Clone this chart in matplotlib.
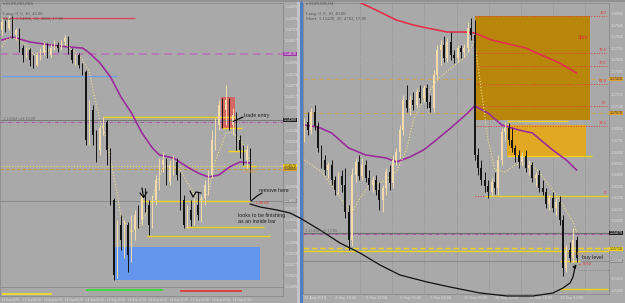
import matplotlib
matplotlib.use("Agg")
import matplotlib.pyplot as plt
import matplotlib.transforms as mtransforms
from matplotlib.patches import Rectangle
import numpy as np

W, H = 625, 303
BG = '#a9a9a9'
BULL = '#f3dcaa'
BEAR = '#141414'
LABEL = '#dcdcdc'
YEL = '#f2d21c'

plt.rcParams['font.family'] = ['Liberation Sans', 'DejaVu Sans']

# ---------------- left chart (lower timeframe) ----------------
l_open0 = 1.14750
l_close = [1.14790, 1.14760, 1.14810, 1.14725, 1.14750, 1.14660, 1.14625, 1.14650, 1.14600, 1.14575,
           1.14625, 1.14640, 1.14675, 1.14625, 1.14660, 1.14675, 1.14660, 1.14690, 1.14710, 1.14650,
           1.14600, 1.14625, 1.14575, 1.14540, 1.14200, 1.14350, 1.14225, 1.14150, 1.14260, 1.14290,
           1.14150, 1.13900, 1.13525, 1.13775, 1.13700, 1.13775, 1.13625, 1.13750, 1.13825, 1.13800,
           1.13925, 1.13875, 1.13775, 1.13900, 1.14000, 1.14075, 1.14100, 1.13990, 1.14075, 1.14090,
           1.14025, 1.13900, 1.13775, 1.13850, 1.13800, 1.13875, 1.13825, 1.13910, 1.13975, 1.14025,
           1.14200, 1.14275, 1.14375, 1.14350, 1.14400, 1.14275, 1.14325, 1.14200, 1.14150, 1.14100,
           1.14150, 1.13910]
l_high = [1.14810, 1.14800, 1.14825, 1.14820, 1.14760, 1.14760, 1.14675, 1.14665, 1.14660, 1.14625,
          1.14640, 1.14660, 1.14690, 1.14685, 1.14680, 1.14700, 1.14690, 1.14700, 1.14725, 1.14720,
          1.14660, 1.14630, 1.14635, 1.14585, 1.14550, 1.14400, 1.14375, 1.14250, 1.14275, 1.14315,
          1.14300, 1.14160, 1.13910, 1.13800, 1.13825, 1.13800, 1.13790, 1.13825, 1.13850, 1.13875,
          1.13950, 1.13960, 1.13900, 1.13925, 1.14025, 1.14110, 1.14140, 1.14110, 1.14100, 1.14125,
          1.14110, 1.14040, 1.13925, 1.13875, 1.13900, 1.13910, 1.13940, 1.13925, 1.14000, 1.14050,
          1.14250, 1.14310, 1.14400, 1.14410, 1.14475, 1.14410, 1.14360, 1.14340, 1.14225, 1.14175,
          1.14175, 1.14160]
l_low = [1.14725, 1.14740, 1.14750, 1.14710, 1.14700, 1.14640, 1.14590, 1.14610, 1.14570, 1.14560,
         1.14570, 1.14600, 1.14625, 1.14610, 1.14615, 1.14650, 1.14640, 1.14650, 1.14675, 1.14630,
         1.14585, 1.14575, 1.14560, 1.14525, 1.14175, 1.14175, 1.14175, 1.14090, 1.14125, 1.14225,
         1.14075, 1.13875, 1.13500, 1.13510, 1.13650, 1.13610, 1.13540, 1.13590, 1.13700, 1.13760,
         1.13775, 1.13840, 1.13725, 1.13760, 1.13875, 1.13950, 1.14040, 1.13975, 1.13975, 1.14025,
         1.14000, 1.13850, 1.13760, 1.13760, 1.13770, 1.13775, 1.13800, 1.13790, 1.13875, 1.13925,
         1.14010, 1.14150, 1.14250, 1.14260, 1.14275, 1.14250, 1.14225, 1.14150, 1.14110, 1.14075,
         1.14060, 1.13900]

l_ma_slow_idx = [0, 3, 8, 14, 19, 23, 25, 28, 31, 34, 37, 40, 43, 45, 49, 53, 56, 59, 62, 65, 68, 71]
l_ma_slow = [1.14700, 1.14715, 1.14690, 1.14675, 1.14665, 1.14660, 1.14635, 1.14585, 1.14515, 1.14415,
             1.14335, 1.14235, 1.14160, 1.14125, 1.14110, 1.14065, 1.14035, 1.14015, 1.14025, 1.14065,
             1.14090, 1.14085]
l_ma_fast_idx = [0, 1, 3, 7, 9, 12, 15, 18, 21, 23, 25, 26, 28, 30, 31, 33, 34, 36, 37, 39,
                 41, 43, 44, 46, 48, 51, 53, 55, 57, 59, 60, 61, 63, 64, 66, 67, 69, 71]
l_ma_fast = [1.14665, 1.14700, 1.14715, 1.14675, 1.14625, 1.14640, 1.14660, 1.14680, 1.14640, 1.14600,
             1.14540, 1.14450, 1.14300, 1.14200, 1.14100, 1.13925, 1.13815, 1.13765, 1.13740, 1.13765,
             1.13825, 1.13900, 1.13975, 1.14060, 1.14075, 1.14050, 1.13985, 1.13925, 1.13900, 1.13935,
             1.14015, 1.14100, 1.14185, 1.14235, 1.14240, 1.14215, 1.14175, 1.14090]

l_tags = [1.14630, 1.14300, 1.14070, 1.14055, 1.13895]
l_tag_bg = ['#9a34a6', '#1e1e1e', '#f2d21c', '#d4a02a', '#8c8c8c']
l_tag_fg = ['white', 'white', '#333333', '#333333', 'white']
l_ticks = [1.14865 - 0.00056 * k for k in range(26)]
l_time_idx = [0, 6, 12, 18, 24, 30, 36, 42, 48, 54, 60, 66]
l_time_lbl = ['14 Sep 2018', '14 Sep 02:00', '14 Sep 04:00', '14 Sep 06:00', '14 Sep 08:00',
              '14 Sep 10:00', '14 Sep 12:00', '14 Sep 14:00', '14 Sep 16:00', '14 Sep 18:00',
              '14 Sep 20:00', '14 Sep 22:00']

# ---------------- right chart (higher timeframe) ----------------
r_open0 = 1.1685
r_close = [1.1698, 1.1690, 1.1708, 1.1694, 1.1672, 1.1660, 1.1650, 1.1655, 1.1640, 1.1630,
           1.1644, 1.1635, 1.1608, 1.1580, 1.1645, 1.1658, 1.1644, 1.1655, 1.1642, 1.1635,
           1.1640, 1.1630, 1.1620, 1.1632, 1.1648, 1.1637, 1.1660, 1.1668, 1.1690, 1.1720,
           1.1712, 1.1720, 1.1715, 1.1728, 1.1722, 1.1732, 1.1718, 1.1712, 1.1745, 1.1770,
           1.1775, 1.1762, 1.1778, 1.1765, 1.1762, 1.1772, 1.1768, 1.1772, 1.1792, 1.1785,
           1.1665, 1.1652, 1.1640, 1.1634, 1.1628, 1.1638, 1.1632, 1.1660, 1.1688, 1.1692,
           1.1680, 1.1672, 1.1665, 1.1658, 1.1664, 1.1652, 1.1655, 1.1642, 1.1645, 1.1632,
           1.1628, 1.1616, 1.1622, 1.1612, 1.1618, 1.1600, 1.1552, 1.1570, 1.1562, 1.1580,
           1.1562]
r_high = [1.1702, 1.1708, 1.1712, 1.1715, 1.1698, 1.1675, 1.1665, 1.1658, 1.1660, 1.1644,
          1.1648, 1.1650, 1.1652, 1.1615, 1.1652, 1.1662, 1.1665, 1.1662, 1.1660, 1.1650,
          1.1644, 1.1645, 1.1638, 1.1635, 1.1652, 1.1655, 1.1665, 1.1672, 1.1695, 1.1725,
          1.1735, 1.1725, 1.1728, 1.1732, 1.1735, 1.1735, 1.1736, 1.1725, 1.1750, 1.1775,
          1.1780, 1.1784, 1.1782, 1.1788, 1.1770, 1.1775, 1.1775, 1.1776, 1.1798, 1.1802,
          1.1800, 1.1672, 1.1660, 1.1648, 1.1640, 1.1642, 1.1648, 1.1665, 1.1692, 1.1698,
          1.1697, 1.1692, 1.1675, 1.1670, 1.1668, 1.1670, 1.1660, 1.1658, 1.1648, 1.1650,
          1.1640, 1.1632, 1.1625, 1.1628, 1.1622, 1.1624, 1.1605, 1.1575, 1.1578, 1.1592,
          1.1584]
r_low = [1.1678, 1.1685, 1.1686, 1.1690, 1.1668, 1.1652, 1.1645, 1.1642, 1.1635, 1.1625,
         1.1626, 1.1628, 1.1602, 1.1570, 1.1574, 1.1638, 1.1640, 1.1640, 1.1638, 1.1630,
         1.1628, 1.1625, 1.1610, 1.1608, 1.1625, 1.1630, 1.1632, 1.1655, 1.1662, 1.1685,
         1.1708, 1.1705, 1.1710, 1.1712, 1.1717, 1.1718, 1.1712, 1.1708, 1.1708, 1.1740,
         1.1755, 1.1758, 1.1758, 1.1760, 1.1757, 1.1758, 1.1762, 1.1763, 1.1768, 1.1780,
         1.1660, 1.1645, 1.1635, 1.1628, 1.1622, 1.1624, 1.1626, 1.1625, 1.1655, 1.1680,
         1.1675, 1.1668, 1.1658, 1.1652, 1.1654, 1.1648, 1.1645, 1.1638, 1.1634, 1.1628,
         1.1625, 1.1612, 1.1610, 1.1608, 1.1605, 1.1595, 1.1544, 1.1548, 1.1558, 1.1558,
         1.1558]

r_ma_slow_idx = [0, 4, 8, 13, 18, 24, 27, 31, 35, 38, 43, 48, 50, 54, 58, 63, 67, 73, 77, 80]
r_ma_slow = [1.1695, 1.1693, 1.1687, 1.1672, 1.1665, 1.1662, 1.1658, 1.1663, 1.1670, 1.1678,
             1.1692, 1.1707, 1.1714, 1.1707, 1.1695, 1.1690, 1.1687, 1.1670, 1.1660, 1.1650]
r_ma_long_idx = [13, 16, 21, 27, 32, 36, 42, 47, 50, 55, 65, 75, 80]
r_ma_long = [1.1822, 1.1818, 1.1810, 1.1800, 1.1795, 1.1792, 1.1788, 1.1788, 1.1787, 1.1780,
             1.1772, 1.1757, 1.1747]
r_ma_fast_idx = [0, 5, 9, 12, 14, 16, 19, 23, 27, 30, 32, 35, 39, 43, 47, 49, 50, 52, 54, 56,
                 59, 62, 66, 69, 73, 76, 79, 80]
r_ma_fast = [1.1660, 1.1648, 1.1630, 1.1615, 1.1608, 1.1620, 1.1635, 1.1638, 1.1648, 1.1670,
             1.1700, 1.1720, 1.1740, 1.1752, 1.1762, 1.1772, 1.1780, 1.1730, 1.1680, 1.1650,
             1.1648, 1.1655, 1.1658, 1.1648, 1.1630, 1.1615, 1.1598, 1.1588]

fib_levels = [1.1804, 1.1767, 1.1754, 1.1736, 1.1714, 1.1694, 1.1624]
fib_labels = ['100', '78.6', '70.5', '61.8', '50', '38.2', '0']
r_tags = [1.1741, 1.1707, 1.1587, 1.1571, 1.1559]
r_tag_bg = ['#dca030', '#dca030', '#1e1e1e', '#f2d21c', '#8c8c8c']
r_tag_fg = ['#333333', '#333333', 'white', '#333333', 'white']
r_grid_idx = [16.3, 25.7, 35.1, 44.9, 54.3, 63.7, 73.1, 82.5]
r_ticks = [1.1806 - 0.00115 * k for k in range(25)]
r_time_idx = [0, 9, 18, 28, 37, 47, 56, 66, 75]
r_time_lbl = ['31 Aug 2018', '4 Sep 16:00', '5 Sep 12:00', '6 Sep 08:00', '7 Sep 04:00',
              '10 Sep 00:00', '10 Sep 20:00', '11 Sep 16:00', '12 Sep 12:00']


def px_rect(x0, y0, x1, y1):
    return [x0 / W, 1 - y1 / H, (x1 - x0) / W, (y1 - y0) / H]


def draw_candles(ax, first_open, highs, lows, closes, width=0.5):
    c = np.array(closes)
    o = np.r_[first_open, c[:-1]]
    x = np.arange(len(c))
    cols = np.where(c >= o, BULL, BEAR)
    ax.vlines(x, lows, highs, colors=cols, lw=0.7, zorder=4)
    body = np.maximum(np.abs(c - o), 0.00002)
    ax.bar(x, body, bottom=np.minimum(o, c), width=width, color=cols, lw=0, zorder=5)


def style(ax, xlim, ylim, ticks, tags):
    ax.set_facecolor(BG)
    ax.set_xlim(*xlim)
    ax.set_ylim(*ylim)
    for s in ax.spines.values():
        s.set_color('#8a8a8a')
        s.set_linewidth(0.6)
    ax.yaxis.tick_right()
    # the scale hides its own labels where a price tag sits
    step = abs(ticks[1] - ticks[0])
    shown = [t for t in ticks if min(abs(t - p) for p in tags) > 0.6 * step]
    ax.set_yticks(shown)
    ax.set_yticklabels([f'{t:.5f}' for t in shown])
    ax.tick_params(axis='y', labelsize=2.6, labelcolor=LABEL, color='#8a8a8a',
                   length=1, width=0.4, pad=0.5)


def price_tags(ax, prices, bgs, fgs):
    tr = mtransforms.blended_transform_factory(ax.transAxes, ax.transData)
    for p, bg, fg in zip(prices, bgs, fgs):
        ax.text(1.003, p, f'{p:.5f}', transform=tr, fontsize=2.6, color=fg,
                va='center', ha='left', clip_on=False, zorder=20,
                bbox=dict(boxstyle='square,pad=0.12', fc=bg, ec='none'))


fig = plt.figure(figsize=(W / 100, H / 100), dpi=100, facecolor=BG)

# ---- left panel ----
axl = fig.add_axes(px_rect(0, 3, 283, 287))
style(axl, (-0.57, 80.3), (1.13465, 1.14885), l_ticks, l_tags)
axl.tick_params(axis='x', bottom=False, labelbottom=False)

axl.add_patch(Rectangle((32, 1.13500), 41.7, 0.00165, color='#6495ed', lw=0, zorder=1))
axl.add_patch(Rectangle((62.6, 1.14260), 4.0, 0.00155, color='#d95f5c', alpha=0.9, lw=0, zorder=1))

axl.hlines(1.14810, 0, 38, color='#e0405a', lw=0.9, zorder=2)
axl.hlines(1.14520, 0, 33, color='#6f9ee6', lw=0.9, zorder=2)
axl.axhline(1.14630, color='#b47cb4', lw=1.4, dashes=(4, 2.5), zorder=2)
axl.axhline(1.14300, color='#777777', lw=0.7, zorder=2)
axl.axhline(1.14290, color='#a35aa3', lw=0.7, dashes=(4, 1.5, 1, 1.5), zorder=2)
axl.axhline(1.14070, color='#e8d36a', lw=0.8, ls=':', zorder=2)
axl.axhline(1.14055, color='#c49a45', lw=0.8, dashes=(3, 2), zorder=2)
axl.axhline(1.13895, color='#858585', lw=0.6, zorder=2)

l_seg_price = [1.14315, 1.14260, 1.14145, 1.14070, 1.13895, 1.13765, 1.13720]
l_seg_start = [29, 63, 64.5, 69, 39.5, 52.5, 41.5]
l_seg_end = [66.5, 68.5, 69.5, 72.5, 71, 75, 76.5]
axl.hlines(l_seg_price, l_seg_start, l_seg_end, color=YEL, lw=1.0, zorder=3)

axl.plot(l_ma_slow_idx, l_ma_slow, color='#9b2d9b', lw=1.2, zorder=3)
axl.plot(l_ma_fast_idx, l_ma_fast, color='#eee08a', lw=0.8, ls=':', zorder=3)
draw_candles(axl, l_open0, l_high, l_low, l_close)
price_tags(axl, l_tags, l_tag_bg, l_tag_fg)

# indicator strip under the left chart
axi = fig.add_axes(px_rect(0, 287, 283, 296))
axi.set_facecolor(BG)
axi.set_xlim(-0.57, 80.3)
axi.set_ylim(0, 1)
for s in axi.spines.values():
    s.set_color('#8a8a8a')
    s.set_linewidth(0.6)
axi.set_yticks([])
ind_start = [0, 24, 51]
ind_end = [14.3, 46, 68.6]
ind_level = [0.22, 0.67, 0.56]
ind_color = ['#f5e31a', '#2fe02f', '#e03030']
axi.hlines(ind_level, ind_start, ind_end, colors=ind_color, lw=1.2)
axi.set_xticks(l_time_idx)
axi.set_xticklabels(l_time_lbl, ha='left')
axi.tick_params(axis='x', labelsize=2.2, labelcolor=LABEL, length=0, pad=1.4)

# ---- right panel ----
axr = fig.add_axes(px_rect(303, 3, 609, 294))
style(axr, (-0.44, 89.55), (1.1526, 1.1817), r_ticks, r_tags)
for gx in r_grid_idx:
    axr.axvline(gx, color='#8c8c8c', lw=0.6, ls=':', zorder=0.5)
axr.set_xticks(r_time_idx)
axr.set_xticklabels(r_time_lbl, ha='left')
axr.tick_params(axis='x', labelsize=2.8, labelcolor=LABEL, length=0, pad=1.8)

axr.axhline(1.1741, color='#caa457', lw=0.8, dashes=(4, 3), zorder=1)
axr.axhline(1.1707, color='#caa457', lw=0.8, dashes=(4, 3), zorder=1)
axr.add_patch(Rectangle((50.1, 1.1700), 33.9, 0.0104, color='#b8860b', lw=0, zorder=1.5))
axr.add_patch(Rectangle((59.6, 1.1664), 23.2, 0.0031, color='#e0a823', lw=0, zorder=1.5))
axr.hlines(fib_levels, 50.1, 89, colors='#e23b3b', lw=0.7, linestyles=':', zorder=2)
for lv, lb in zip(fib_levels, fib_labels):
    axr.text(88.8, lv + 0.00005, lb, fontsize=3.0, color='#e23b3b', ha='right', va='bottom', zorder=6)

axr.axhline(1.1587, color='#6f6f6f', lw=0.8, zorder=2)
axr.axhline(1.1586, color='#a35aa3', lw=0.7, dashes=(4, 1.5, 1, 1.5), zorder=2)
axr.axhline(1.1572, color=YEL, lw=1.0, dashes=(4, 2), zorder=2)
axr.axhline(1.1569, color=YEL, lw=1.0, zorder=2)
axr.axhline(1.1559, color='#858585', lw=0.6, zorder=2)

r_seg_price = [1.1624, 1.1699, 1.1664, 1.1559, 1.1531]
r_seg_start = [53, 59.6, 59.6, 75, 75]
r_seg_end = [89.3, 77.5, 84.6, 81, 89.3]
axr.hlines(r_seg_price, r_seg_start, r_seg_end, color=YEL, lw=1.0, zorder=3)
axr.hlines(1.1550, 80.7, 89.5, color='#7a7a7a', lw=0.6, ls=':', zorder=2)

axr.plot(r_ma_long_idx, r_ma_long, color='#e0304a', lw=1.2, zorder=3)
axr.plot(r_ma_slow_idx, r_ma_slow, color='#9b2d9b', lw=1.2, zorder=3)
axr.plot(r_ma_fast_idx, r_ma_fast, color='#eee08a', lw=0.8, ls=':', zorder=3)
draw_candles(axr, r_open0, r_high, r_low, r_close)
axr.text(81.9, 1.1783, '3pm', fontsize=3.8, color='#e03030', ha='center', va='center', zorder=6)
price_tags(axr, r_tags, r_tag_bg, r_tag_fg)

# ---- overlay: window frames and hand-drawn notes (pixel coordinates) ----
ov = fig.add_axes([0, 0, 1, 1], zorder=10)
ov.set_xlim(0, W)
ov.set_ylim(H, 0)
ov.axis('off')
ov.patch.set_alpha(0)
ov.add_patch(Rectangle((297, 0), 3, H, color='#c4c4c4', lw=0))
ov.add_patch(Rectangle((300, 0), 2.6, H, color='#4f7fc0', lw=0))
ov.hlines(0.8, 0, W, color='#8e8e8e', lw=1.2)

serif = ['Liberation Serif', 'DejaVu Serif']
for x0, name, short in [(3, '\u25be EURUSD,M15', 'Short: 1.14305, 20, 2080, 17:00'),
                        (306, '\u25be EURUSD,H4', 'Short: 1.15428, 20, 4783, 17:00')]:
    ov.text(x0, 4, name, fontsize=3.0, color='#5a5a5a', va='center')
    ov.text(x0, 13.5, 'Long: 0, 0, 10, 40.00', fontsize=3.4, color='#555555', va='center', family=serif)
    ov.text(x0, 18.5, short, fontsize=3.4, color='#555555', va='center', family=serif)
ov.text(3, 118.5, '1.14304 sell 13:00', fontsize=2.8, color='#6a6a6a', va='center')
ov.text(305, 231.5, '1.15438 sell 13:00', fontsize=2.8, color='#6a6a6a', va='center')

note = dict(fontsize=3.8, color='#1e1e1e', va='center', ha='left')
ov.text(244, 115, 'trade entry', **note)
ov.text(259, 190, 'remove here', **note)
ov.text(238, 216, 'looks to be finishing', **note)
ov.text(238, 221.5, 'as an inside bar', **note)
ov.text(582, 258, 'buy level', **note)
ov.text(243, 172, '1.14064', fontsize=2.8, color='#e8a040', va='center')
ov.text(254, 203, '-1.48 64', fontsize=2.8, color='#e03030', va='center')
ov.text(574, 254, '1.15711', fontsize=2.8, color='#e8a040', va='center')
ov.text(578, 264, '\u2192 8.64', fontsize=2.8, color='#e03030', va='center')

pen = dict(color='#111111', lw=0.9, solid_capstyle='round', solid_joinstyle='round')
ov.plot([233, 243], [121.5, 117], **pen)
ov.plot([251, 257, 262], [201, 196, 193], **pen)
ov.plot([142, 143.5], [188, 197], **pen)
ov.plot([140, 143.5, 147], [193, 197.5, 192], **pen)
ov.plot([190, 193, 196, 201], [191, 197, 192, 193], **pen)

curve_x = [250, 260, 277, 290, 300, 320, 340, 360, 380, 400, 427, 450, 480, 507, 533, 553, 563, 570, 573, 575]
curve_y = [204, 207, 210, 213, 218, 230, 243, 253, 265, 275, 282, 287, 293, 296, 296, 293, 288, 283, 277, 267]
ov.plot(curve_x, curve_y, **pen)
ov.annotate('', xy=(578, 262), xytext=(574, 268),
            arrowprops=dict(arrowstyle='-|>', color='#111111', lw=0.8, mutation_scale=5))

fig.savefig('out.png', dpi=100, facecolor=BG)
